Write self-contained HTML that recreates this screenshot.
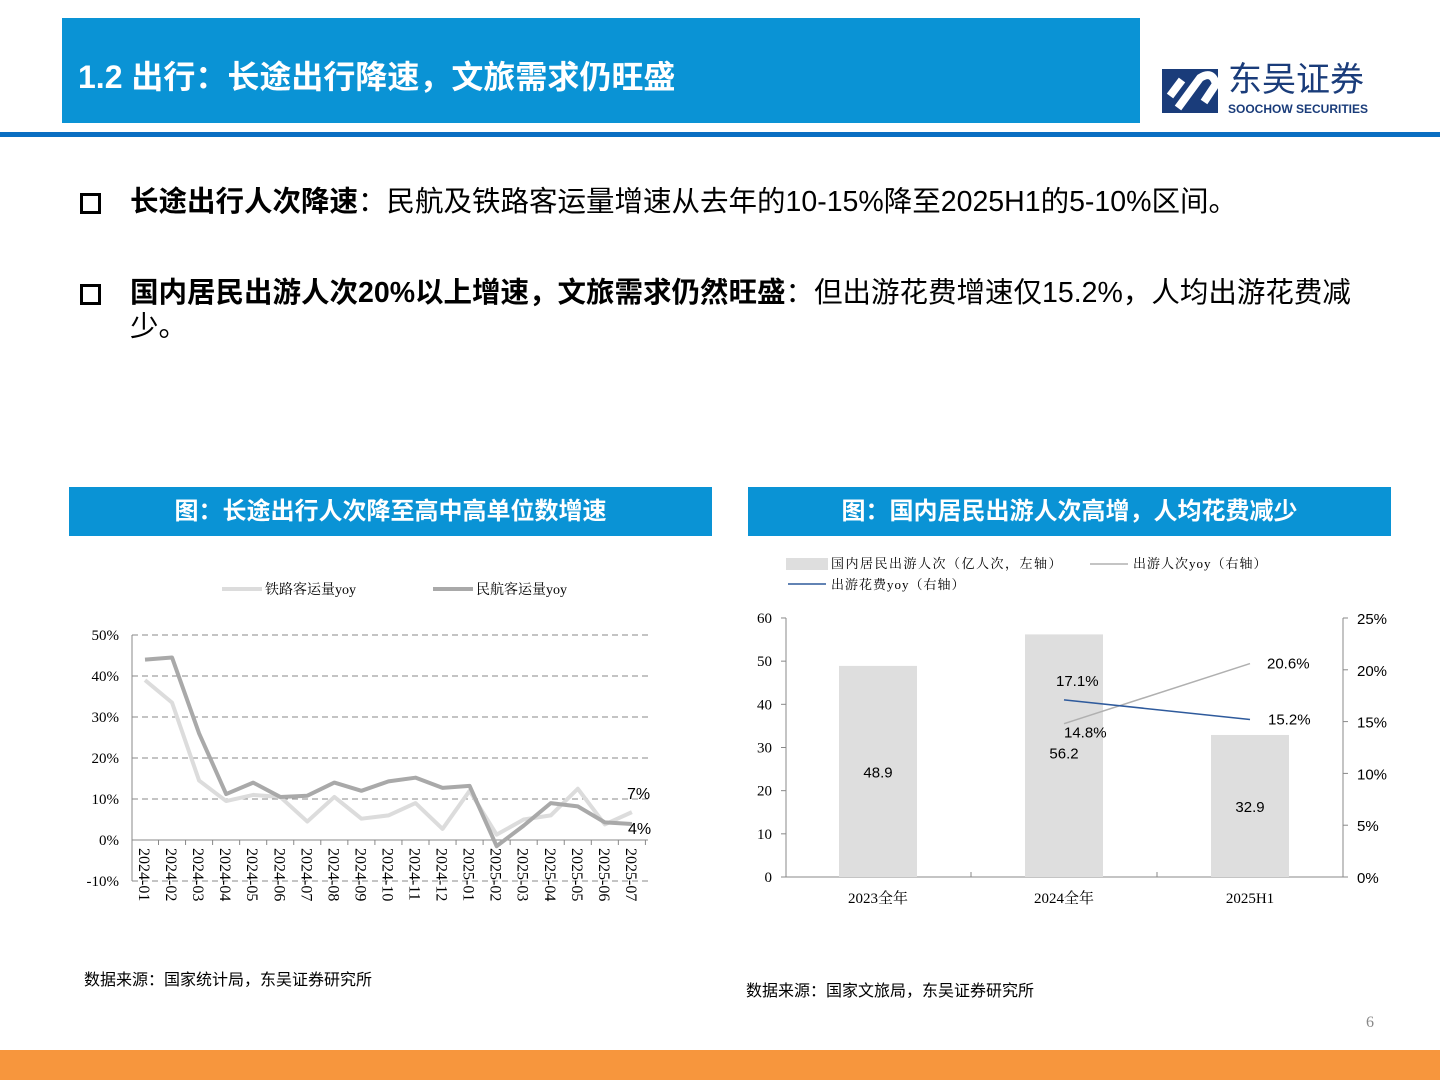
<!DOCTYPE html>
<html><head><meta charset="utf-8"><style>
body{margin:0;width:1440px;height:1080px;position:relative;background:#fff;font-family:"Liberation Sans","Noto Sans CJK SC",sans-serif;overflow:hidden}
.abs{position:absolute}
.hdr{left:62px;top:18px;width:1078px;height:105px;background:#0a93d5}
.hdr span{position:absolute;left:16px;top:34px;color:#fff;font-size:32px;font-weight:bold}
.rule{left:0;top:132px;width:1440px;height:5px;background:#0a6fc2}
.bullet{font-size:28.5px;color:#000;line-height:34px}
.box{position:absolute;left:0;top:8px;width:15px;height:15px;border:3px solid #000}
.ctitle{height:49px;background:#0a93d5;color:#fff;font-size:24px;font-weight:bold;text-align:center;line-height:49px}
.src{font-size:16px;color:#000}
svg text{font-family:"Liberation Serif","Noto Serif CJK SC",serif}
svg text.sans{font-family:"Liberation Sans",sans-serif}
</style></head><body>
<div class="abs hdr"><span>1.2 出行：长途出行降速，文旅需求仍旺盛</span></div>
<div class="abs" style="left:1160px;top:66px;width:220px;height:52px">
<svg width="62" height="50" style="position:absolute;left:0;top:0"><rect x="2" y="3" width="56" height="44" fill="#1a3c7a"/><path d="M18 42 L40 12 Q52 4 56 18 L44 36" stroke="#fff" stroke-width="8" fill="none"/><path d="M10 30 L22 14" stroke="#fff" stroke-width="8"/></svg>
<div style="position:absolute;left:68px;top:-6px;font-size:34px;line-height:40px;color:#1a3c7a">东吴证券</div>
<div style="position:absolute;left:68px;top:36px;font-size:12px;line-height:14px;font-weight:bold;color:#1a3c7a">SOOCHOW SECURITIES</div></div>
<div class="abs rule"></div>
<div class="abs bullet" style="left:80px;top:185px;width:1280px"><div class="box"></div><span style="margin-left:50px"><b>长途出行人次降速</b>：民航及铁路客运量增速从去年的10-15%降至2025H1的5-10%区间。</span></div>
<div class="abs bullet" style="left:80px;top:276px;width:1290px"><div class="box"></div><div style="margin-left:50px"><b>国内居民出游人次20%以上增速，文旅需求仍然旺盛</b>：但出游花费增速仅15.2%，人均出游花费减少。</div></div>

<div class="abs ctitle" style="left:69px;top:487px;width:643px">图：长途出行人次降至高中高单位数增速</div>
<div class="abs ctitle" style="left:748px;top:487px;width:643px">图：国内居民出游人次高增，人均花费减少</div>

<svg class="abs" id="lc" style="left:0;top:0" width="720" height="960"></svg>
<svg class="abs" id="rc" style="left:0;top:0" width="1440" height="960"></svg>

<div class="abs src" style="left:84px;top:966px">数据来源：国家统计局，东吴证券研究所</div>
<div class="abs src" style="left:746px;top:977px">数据来源：国家文旅局，东吴证券研究所</div>
<div class="abs" style="left:1366px;top:1014px;font-size:16px;color:#888;font-family:'Liberation Serif',serif">6</div>
<div class="abs" style="left:0;top:1050px;width:1440px;height:30px;background:#f7963d"></div>

<script>
const months=["2024-01","2024-02","2024-03","2024-04","2024-05","2024-06","2024-07","2024-08","2024-09","2024-10","2024-11","2024-12","2025-01","2025-02","2025-03","2025-04","2025-05","2025-06","2025-07"];
const railYoy=[39,33.5,14.5,9.5,11,10.5,4.5,10.5,5.2,6,9,2.7,12,1.3,5,6,12.5,3.8,6.8];
const airYoy=[44,44.5,26,11.2,14,10.5,10.8,14,12,14.3,15.2,12.7,13.2,-1.5,3.5,9,8.2,4.3,3.9];
const leftTicks=[-10,0,10,20,30,40,50];
const cats=["2023全年","2024全年","2025H1"];
const trips=[48.9,56.2,32.9];
const tripYoy=[null,14.8,20.6];
const spendYoy=[null,17.1,15.2];
const rTicksL=[0,10,20,30,40,50,60];
const rTicksR=[0,5,10,15,20,25];
const NS="http://www.w3.org/2000/svg";
function mk(svg,tag,a,txt){const e=document.createElementNS(NS,tag);for(const k in a)e.setAttribute(k,a[k]);if(txt!=null)e.textContent=txt;svg.appendChild(e);return e;}
// left chart
const L=document.getElementById('lc');
const ly=v=>840-v*4.1, lx=i=>145+i*27.05;
leftTicks.forEach(t=>{const g=mk(L,'line',{x1:132,x2:648,y1:ly(t),y2:ly(t),stroke:'#888','stroke-dasharray':'6,4','stroke-width':1});
const tx=mk(L,'text',{x:119,y:ly(t)+5,'text-anchor':'end','font-size':15},t+'%');});
mk(L,'line',{x1:132,x2:132,y1:ly(50),y2:ly(-10),stroke:'#888'});
mk(L,'line',{x1:132,x2:648,y1:ly(0),y2:ly(0),stroke:'#888'});
months.forEach((m,i)=>{mk(L,'line',{x1:lx(i)+13.5,x2:lx(i)+13.5,y1:ly(0),y2:ly(0)+5,stroke:'#888'});
const t=mk(L,'text',{x:0,y:0,'font-size':16,transform:`translate(${lx(i)-6},${848}) rotate(90)`},m);});
function poly(svg,data,xf,yf,col,w,name){const pts=data.map((v,i)=>v==null?null:xf(i)+','+yf(v)).filter(p=>p).join(' ');const p=mk(svg,'polyline',{points:pts,fill:'none',stroke:col,'stroke-width':w,'stroke-linejoin':'round'});}
poly(L,railYoy,lx,ly,'#dcdcdc',4,'rail-yoy-line');
poly(L,airYoy,lx,ly,'#a9a9a9',4,'air-yoy-line');
mk(L,'text',{x:627,y:ly(railYoy[18])-13,'font-size':16,'class':'sans'},Math.round(railYoy[18])+'%');
mk(L,'text',{x:628,y:ly(airYoy[18])+10,'font-size':16,'class':'sans'},Math.round(airYoy[18])+'%');
mk(L,'line',{x1:222,x2:262,y1:589,y2:589,stroke:'#dcdcdc','stroke-width':4});
mk(L,'text',{x:265,y:594,'font-size':14},'铁路客运量yoy');
mk(L,'line',{x1:433,x2:473,y1:589,y2:589,stroke:'#a9a9a9','stroke-width':4});
mk(L,'text',{x:476,y:594,'font-size':14},'民航客运量yoy');
// right chart
const R=document.getElementById('rc');
const ry=v=>877-v*4.317, rr=v=>877-v*10.36, rx=i=>878+i*186;
mk(R,'line',{x1:786,x2:786,y1:618,y2:877,stroke:'#888'});
mk(R,'line',{x1:1343,x2:1343,y1:618,y2:877,stroke:'#888'});
mk(R,'line',{x1:786,x2:1343,y1:877,y2:877,stroke:'#888'});
rTicksL.forEach(t=>{mk(R,'line',{x1:781,x2:786,y1:ry(t),y2:ry(t),stroke:'#888'});const e=mk(R,'text',{x:772,y:ry(t)+5,'text-anchor':'end','font-size':15},t);});
rTicksR.forEach(t=>{mk(R,'line',{x1:1343,x2:1348,y1:rr(t),y2:rr(t),stroke:'#888'});const e=mk(R,'text',{x:1357,y:rr(t)+6,'font-size':15,'class':'sans'},t+'%');});
[971,1157].forEach(x=>mk(R,'line',{x1:x,x2:x,y1:877,y2:872,stroke:'#888'}));
cats.forEach((c,i)=>{const b=mk(R,'rect',{x:rx(i)-39,y:ry(trips[i]),width:78,height:877-ry(trips[i]),fill:'#dedede'});
mk(R,'text',{x:rx(i),y:903,'text-anchor':'middle','font-size':15},c);
mk(R,'text',{x:rx(i),y:ry(trips[i]/2)+(i==1?-3:0)+6,'text-anchor':'middle','font-size':15,'class':'sans'},trips[i]);});
poly(R,tripYoy,rx,rr,'#b0b0b0',1.5,'trip-yoy-line');
poly(R,spendYoy,rx,rr,'#2e5a9c',1.5,'spend-yoy-line');
mk(R,'text',{x:rx(1)-8,y:rr(spendYoy[1])-14,'font-size':15,'class':'sans'},spendYoy[1]+'%');
mk(R,'text',{x:rx(1),y:rr(tripYoy[1])+14,'font-size':15,'class':'sans'},tripYoy[1]+'%');
mk(R,'text',{x:rx(2)+17,y:rr(tripYoy[2])+5,'font-size':15,'class':'sans'},tripYoy[2]+'%');
mk(R,'text',{x:rx(2)+18,y:rr(spendYoy[2])+5,'font-size':15,'class':'sans'},spendYoy[2]+'%');
mk(R,'rect',{x:786,y:558,width:42,height:12,fill:'#dedede'});
mk(R,'text',{x:831,y:568,'font-size':13,'letter-spacing':'1.5'},'国内居民出游人次（亿人次，左轴）');
mk(R,'line',{x1:1090,x2:1128,y1:564,y2:564,stroke:'#b0b0b0','stroke-width':1.5});
mk(R,'text',{x:1133,y:568,'font-size':13,'letter-spacing':'1'},'出游人次yoy（右轴）');
mk(R,'line',{x1:788,x2:826,y1:584,y2:584,stroke:'#2e5a9c','stroke-width':1.5});
mk(R,'text',{x:831,y:589,'font-size':13,'letter-spacing':'1'},'出游花费yoy（右轴）');
</script>
</body></html>
